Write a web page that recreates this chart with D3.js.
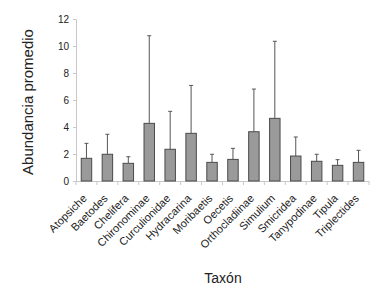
<!DOCTYPE html>
<html>
<head>
<meta charset="utf-8">
<script src="https://cdn.jsdelivr.net/npm/d3@7"></script>
<style>
  body { margin: 0; background: #fff; }
  text { font-family: "Liberation Sans", Arial, sans-serif; fill: #222; }
</style>
</head>
<body>
<div id="main"></div>
<script>
var taxa = ["Atopsiche", "Baetodes", "Chelifera", "Chironominae", "Curculionidae",
  "Hydracarina", "Moribaetis", "Oecetis", "Orthocladiinae", "Simulium",
  "Smicridea", "Tanypodinae", "Tipula", "Triplectides"];
var means = [1.68, 1.98, 1.31, 4.27, 2.35, 3.53, 1.38, 1.6, 3.65, 4.64, 1.85, 1.46, 1.16, 1.38];
var upper = [2.79, 3.46, 1.8, 10.76, 5.16, 7.08, 1.98, 2.42, 6.81, 10.35, 3.26, 1.98, 1.58, 2.27];
var yTicks = [0, 2, 4, 6, 8, 10, 12];

var width = 377, height = 293;
var margin = {left: 76, right: 8, top: 19, bottom: 112};
var xEnd = 369;

var svg = d3.select("#main").append("svg")
    .attr("width", width)
    .attr("height", height);

var x = d3.scaleBand()
    .domain(taxa)
    .range([margin.left, xEnd])
    .paddingInner(0.5)
    .paddingOuter(0.25);

var y = d3.scaleLinear()
    .domain([0, 12])
    .range([181, 19]);

// y axis
var yAxis = svg.append("g")
    .attr("transform", "translate(" + margin.left + ",0)")
    .call(d3.axisLeft(y).tickValues(yTicks).tickSize(3).tickPadding(4));
yAxis.select(".domain").attr("stroke", "#c8c8c8");
yAxis.selectAll(".tick line").attr("stroke", "#c8c8c8");
yAxis.selectAll("text").style("font-size", "10px").attr("fill", "#222");

// x axis line and ticks at category boundaries
var x0 = margin.left;
svg.append("line")
    .attr("x1", x0).attr("x2", xEnd)
    .attr("y1", y(0) + 0.5).attr("y2", y(0) + 0.5)
    .attr("stroke", "#c8c8c8");
var bounds = d3.range(taxa.length + 1).map(function(i){ return x0 + (xEnd - x0) * i / taxa.length; });
svg.selectAll(".xtick")
    .data(bounds)
    .enter().append("line")
    .attr("class", "xtick")
    .attr("x1", function(d){ return d; }).attr("x2", function(d){ return d; })
    .attr("y1", y(0)).attr("y2", y(0) + 4)
    .attr("stroke", "#c8c8c8");

// bars
svg.selectAll(".bar")
    .data(taxa)
    .enter().append("rect")
    .attr("class", "bar")
    .attr("x", function(d){ return x(d); })
    .attr("width", x.bandwidth())
    .attr("y", function(d, i){ return y(means[i]); })
    .attr("height", function(d, i){ return y(0) - y(means[i]); })
    .attr("fill", "#9a9a9a")
    .attr("stroke", "#4a4a4a")
    .attr("stroke-width", 1);

// error bars
var cx = function(d){ return x(d) + x.bandwidth() / 2; };
svg.selectAll(".err")
    .data(taxa)
    .enter().append("line")
    .attr("x1", cx).attr("x2", cx)
    .attr("y1", function(d, i){ return y(means[i]); })
    .attr("y2", function(d, i){ return y(upper[i]); })
    .attr("stroke", "#555");
svg.selectAll(".cap")
    .data(taxa)
    .enter().append("line")
    .attr("x1", function(d){ return cx(d) - 2; })
    .attr("x2", function(d){ return cx(d) + 2; })
    .attr("y1", function(d, i){ return y(upper[i]); })
    .attr("y2", function(d, i){ return y(upper[i]); })
    .attr("stroke", "#555");

// x labels
svg.selectAll(".xlab")
    .data(taxa)
    .enter().append("text")
    .attr("transform", function(d){ return "translate(" + (cx(d) + 1) + "," + 199 + ") rotate(-45)"; })
    .attr("text-anchor", "end")
    .style("font-size", "11px")
    .text(function(d){ return d; });

// axis titles
svg.append("text")
    .attr("x", 223).attr("y", 283)
    .attr("text-anchor", "middle")
    .style("font-size", "14px")
    .text("Taxón");

svg.append("text")
    .attr("transform", "translate(33,102) rotate(-90)")
    .attr("text-anchor", "middle")
    .style("font-size", "15px")
    .text("Abundancia promedio");
</script>
</body>
</html>
